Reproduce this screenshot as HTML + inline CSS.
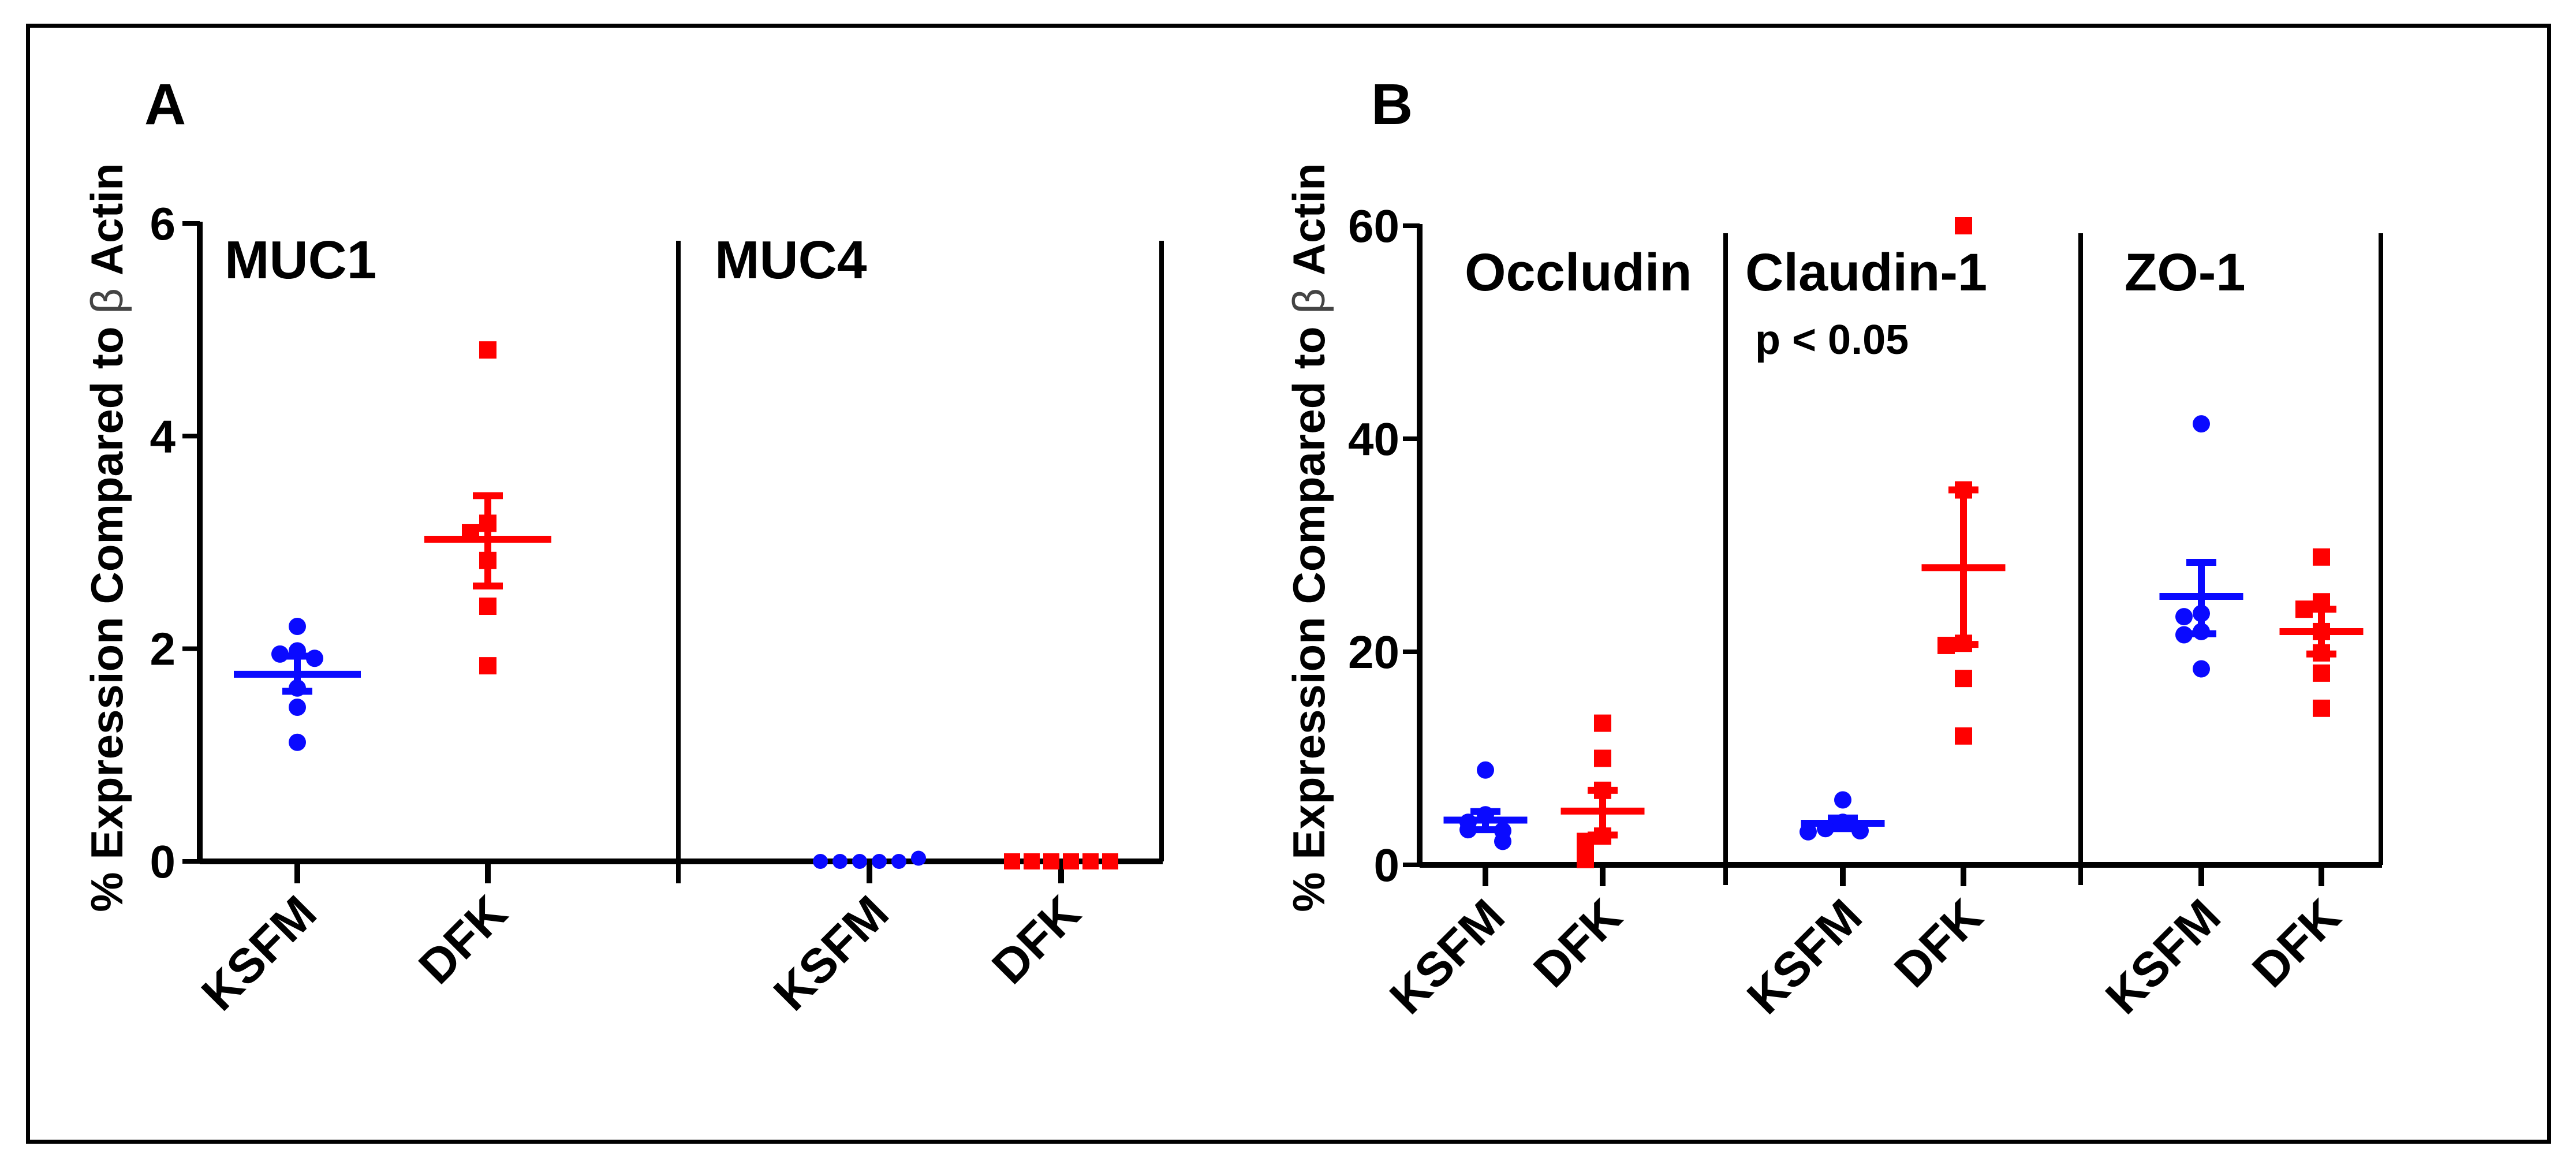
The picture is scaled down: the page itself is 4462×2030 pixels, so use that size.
<!DOCTYPE html>
<html><head><meta charset="utf-8"><style>
html,body{margin:0;padding:0;background:#fff;}
svg{display:block;}
text{font-family:"Liberation Sans",Arial,sans-serif;font-weight:bold;fill:#000;}
</style></head><body>
<svg id="chart" width="4462" height="2030" viewBox="0 0 4462 2030" xmlns="http://www.w3.org/2000/svg">
<rect x="48.5" y="44.5" width="4367" height="1933" fill="none" stroke="#000" stroke-width="7"/>
<g id="panelA"></g>
<g id="panelB"></g>
</svg>
<script>
// ---- Panel A data ----
const aGroups = ["MUC1", "MUC4"];
const aCategories = ["KSFM", "DFK"];
const aTicks = [0, 2, 4, 6];
const muc1Ksfm = [2.21, 1.98, 1.95, 1.91, 1.63, 1.45, 1.12];
const muc1Dfk = [4.81, 3.18, 3.09, 2.83, 2.40, 1.84];
const muc1KsfmStats = [1.76, 1.60, 1.93];   // mean, lower SEM, upper SEM
const muc1DfkStats = [3.03, 2.59, 3.44];
const muc4Ksfm = [0, 0, 0, 0, 0, 0.03];
const muc4Dfk = [0, 0, 0, 0, 0, 0];
const muc4KsfmStats = [0.005, 0, 0.01];
const muc4DfkStats = [0, 0, 0];
// ---- Panel B data ----
const bGroups = ["Occludin", "Claudin-1", "ZO-1"];
const bCategories = ["KSFM", "DFK"];
const bTicks = [0, 20, 40, 60];
const occKsfm = [8.9, 4.7, 4.0, 3.3, 3.2, 2.2];
const occDfk = [13.3, 10.0, 7.0, 2.7, 2.2, 1.2, 0.5];
const occKsfmStats = [4.2, 3.3, 5.0];
const occDfkStats = [5.05, 2.8, 7.0];
const claKsfm = [6.1, 4.0, 3.4, 3.2, 3.1];
const claDfk = [60, 35.2, 20.8, 20.6, 17.5, 12.1];
const claKsfmStats = [3.9, 3.4, 4.4];
const claDfkStats = [27.9, 20.7, 35.2];
const zoKsfm = [41.4, 23.6, 23.3, 21.9, 21.6, 18.4];
const zoDfk = [28.9, 24.7, 24.0, 21.9, 19.9, 18.0, 14.7];
const zoKsfmStats = [25.2, 21.7, 28.4];
const zoDfkStats = [21.9, 19.8, 24.0];

const NS = "http://www.w3.org/2000/svg";
const BLUE = "#0a0aff", RED = "#ff0000";
function mk(parent, tag, attrs, txt) {
  const e = document.createElementNS(NS, tag);
  for (const k in attrs) e.setAttribute(k, attrs[k]);
  if (txt !== undefined) e.textContent = txt;
  parent.appendChild(e);
  return e;
}
function line(p, x1, y1, x2, y2, w, c, name) {
  const e = mk(p, "line", {x1, y1, x2, y2, stroke: c || "#000", "stroke-width": w});
  
  
  return e;
}
function scaleY(y0, y1, vmax) { return v => y0 - (v / vmax) * (y0 - y1); }

function jitterOffsets(vals, thr, step) {
  const offs = [];
  vals.forEach((v, i) => {
    let n = 0;
    for (let j = 0; j < i; j++) if (Math.abs(vals[j] - v) < thr) n++;
    const k = Math.ceil(n / 2) * (n % 2 ? -1 : 1);
    offs.push(k * step);
  });
  return offs;
}

function drawGroup(g, cx, vals, stats, color, shape, ys, vmax, meanW, name) {
  const grp = mk(g, "g", {});
  
  
  const offs = jitterOffsets(vals, vmax * 0.022, 30);
  // stats
  const ym = ys(stats[0]), yl = ys(stats[1]), yu = ys(stats[2]);
  line(grp, cx, yl, cx, yu, 12, color, name + '-sem-bar');
  line(grp, cx - 26, yl, cx + 26, yl, 12, color, name + '-sem-cap-low');
  line(grp, cx - 26, yu, cx + 26, yu, 12, color, name + '-sem-cap-high');
  line(grp, cx - meanW / 2, ym, cx + meanW / 2, ym, 12, color, name + '-mean-line');
  vals.forEach((v, i) => {
    const x = cx + offs[i], y = ys(v);
    let e;
    if (shape === "circle") e = mk(grp, "circle", {cx: x, cy: y, r: 15, fill: color});
    else e = mk(grp, "rect", {x: x - 15, y: y - 15, width: 30, height: 30, fill: color});
    
    
  });
}

function yTitle(g, x, y) {
  const t = mk(g, "text", {x: 0, y: 0, "font-size": 78, "text-anchor": "middle",
    transform: `translate(${x},${y}) rotate(-90)`});
  
  
  mk(t, "tspan", {}, "% Expression Compared to  ");
  mk(t, "tspan", {"font-weight": "normal", fill: "#444"}, "β");
  mk(t, "tspan", {}, "  Actin");
}

function xLabel(g, x, y0, txt, name) {
  const t = mk(g, "text", {x: 0, y: 0, "font-size": 84, "text-anchor": "end",
    transform: `translate(${x + 38},${y0 + 95}) rotate(-45)`}, txt);
  
  
}

// ---------- Panel A ----------
(function () {
  const g = document.getElementById("panelA");
  const y0 = 1492, yTop = 387, axX = 346, vmax = 6;
  const ys = scaleY(y0, yTop, vmax);
  const lbl = mk(g, "text", {x: 250, y: 215, "font-size": 100}, "A");
  
  
  yTitle(g, 212, 931);
  line(g, axX, yTop - 3, axX, y0 + 3, 10, "#000", 'y-axis-a');
  line(g, axX, y0, 2014, y0, 10, "#000", 'x-axis-a');
  line(g, 1175, 417, 1175, 1530, 8, "#000", 'divider-a1');
  line(g, 2012, 417, 2012, y0, 8, "#000", 'divider-a2');
  aTicks.forEach(v => {
    line(g, 316, ys(v), axX, ys(v), 8, "#000", 'y-tick');
    const t = mk(g, "text", {x: 304, y: ys(v) + 28, "font-size": 80, "text-anchor": "end"}, String(v));
    
    
  });
  const ticksX = [[515, 845], [1506, 1838]];
  const gl = [[389, 482], [1238, 482]];
  aGroups.forEach((name, gi) => {
    const t = mk(g, "text", {x: gl[gi][0], y: gl[gi][1], "font-size": 93}, name);
    
    
    aCategories.forEach((c, ci) => {
      const x = ticksX[gi][ci];
      line(g, x, y0, x, 1530, 10, "#000", 'x-tick');
      xLabel(g, x, y0, c, name.toLowerCase() + '-' + c.toLowerCase() + '-label');
    });
  });
  drawGroup(g, 515, muc1Ksfm, muc1KsfmStats, BLUE, "circle", ys, vmax, 220, 'muc1-ksfm');
  drawGroup(g, 845, muc1Dfk, muc1DfkStats, RED, "square", ys, vmax, 220, 'muc1-dfk');
  // MUC4 zero values spread horizontally
  [[muc4Ksfm, 1506, BLUE, "circle", 'muc4-ksfm'], [muc4Dfk, 1838, RED, "square", 'muc4-dfk']].forEach(s => {
    const [vals, cx, color, shape, name] = s;
    vals.forEach((v, i) => {
      const x = cx + (i - (vals.length - 1) / 2) * 34, y = ys(v);
      let e;
      if (shape === "circle") e = mk(g, "circle", {cx: x, cy: y, r: 13, fill: color});
      else e = mk(g, "rect", {x: x - 14, y: y - 14, width: 28, height: 28, fill: color});
      
      
    });
  });
})();

// ---------- Panel B ----------
(function () {
  const g = document.getElementById("panelB");
  const y0 = 1498, yTop = 391, axX = 2459, vmax = 60;
  const ys = scaleY(y0, yTop, vmax);
  const lbl = mk(g, "text", {x: 2375, y: 215, "font-size": 100}, "B");
  
  
  yTitle(g, 2294, 931);
  line(g, axX, yTop - 3, axX, y0 + 3, 10, "#000", 'y-axis-b');
  line(g, axX, y0, 4126, y0, 10, "#000", 'x-axis-b');
  line(g, 2989, 404, 2989, 1533, 8, "#000", 'divider-b1');
  line(g, 3604, 404, 3604, 1533, 8, "#000", 'divider-b2');
  line(g, 4124, 404, 4124, y0, 8, "#000", 'divider-b3');
  bTicks.forEach(v => {
    line(g, 2430, ys(v), axX, ys(v), 8, "#000", 'y-tick');
    const t = mk(g, "text", {x: 2424, y: ys(v) + 28, "font-size": 80, "text-anchor": "end"}, String(v));
    
    
  });
  const ticksX = [[2573, 2776], [3192, 3401], [3813, 4021]];
  const gl = [[2537, 503], [3023, 503], [3680, 503]];
  bGroups.forEach((name, gi) => {
    const t = mk(g, "text", {x: gl[gi][0], y: gl[gi][1], "font-size": 92}, name);
    
    
    bCategories.forEach((c, ci) => {
      const x = ticksX[gi][ci];
      line(g, x, y0, x, 1535, 10, "#000", 'x-tick');
      xLabel(g, x, y0, c, name.toLowerCase() + '-' + c.toLowerCase() + '-label');
    });
  });
  const p = mk(g, "text", {x: 3040, y: 613, "font-size": 72}, "p < 0.05");
  
  
  drawGroup(g, 2573, occKsfm, occKsfmStats, BLUE, "circle", ys, vmax, 145, 'occludin-ksfm');
  drawGroup(g, 2776, occDfk, occDfkStats, RED, "square", ys, vmax, 145, 'occludin-dfk');
  drawGroup(g, 3192, claKsfm, claKsfmStats, BLUE, "circle", ys, vmax, 145, 'claudin-ksfm');
  drawGroup(g, 3401, claDfk, claDfkStats, RED, "square", ys, vmax, 145, 'claudin-dfk');
  drawGroup(g, 3813, zoKsfm, zoKsfmStats, BLUE, "circle", ys, vmax, 145, 'zo1-ksfm');
  drawGroup(g, 4021, zoDfk, zoDfkStats, RED, "square", ys, vmax, 145, 'zo1-dfk');
})();
</script>
</body></html>
